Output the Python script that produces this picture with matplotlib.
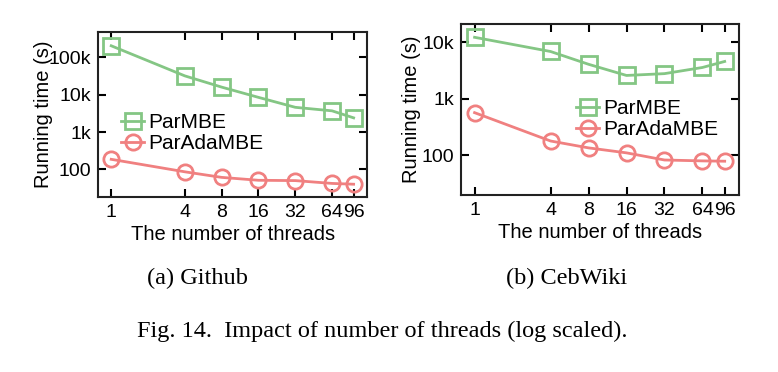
import matplotlib
matplotlib.use("Agg")
import matplotlib.pyplot as plt
from matplotlib.ticker import FixedLocator, FixedFormatter, NullLocator

threads = [1, 4, 8, 16, 32, 64, 96]
thread_labels = ["1", "4", "8", "16", "32", "64", "96"]

github_parmbe = [205000, 32000, 16000, 8500, 4600, 3700, 2400]
github_paradambe = [186, 86, 61, 51, 50, 42, 40]

cebwiki_parmbe = [12300, 6900, 4100, 2600, 2800, 3600, 4600]
cebwiki_paradambe = [571, 180, 136, 111, 83, 80, 79]

github_yticks = [100, 1000, 10000, 100000]
github_ylabels = ["100", "1k", "10k", "100k"]
cebwiki_yticks = [100, 1000, 10000]
cebwiki_ylabels = ["100", "1k", "10k"]

series_names = ["ParMBE", "ParAdaMBE"]
subcaptions = ["(a) Github", "(b) CebWiki"]
caption = "Fig. 14.  Impact of number of threads (log scaled)."

green = "#84c684"
red = "#f08080"
sans = ["Liberation Sans", "DejaVu Sans"]
serif = ["Liberation Serif", "DejaVu Serif"]

fig = plt.figure(figsize=(7.78, 3.72), dpi=100)
fig.patch.set_facecolor("white")

ax1 = fig.add_axes([0.126, 0.470, 0.346, 0.444])
ax2 = fig.add_axes([0.5925, 0.476, 0.357, 0.459])

def style(ax, s1, s2, yticks, ylabels, ylim, anchor, ylabelpad):
    ax.plot(threads, s1, color=green, marker="s", markersize=11, markerfacecolor="none",
            markeredgewidth=2, linewidth=2, label=series_names[0])
    ax.plot(threads, s2, color=red, marker="o", markersize=11, markerfacecolor="none",
            markeredgewidth=2, linewidth=2, label=series_names[1])
    ax.set_xscale("log")
    ax.set_yscale("log")
    ax.set_xlim(0.78, 124)
    ax.set_ylim(*ylim)
    ax.xaxis.set_major_locator(FixedLocator(threads))
    ax.xaxis.set_major_formatter(FixedFormatter(thread_labels))
    ax.xaxis.set_minor_locator(NullLocator())
    ax.yaxis.set_major_locator(FixedLocator(yticks))
    ax.yaxis.set_major_formatter(FixedFormatter(ylabels))
    ax.yaxis.set_minor_locator(NullLocator())
    ax.tick_params(axis="both", which="major", direction="in", length=6, width=1.5,
                   top=True, right=True, labelsize=14, pad=5)
    for lab in ax.get_xticklabels() + ax.get_yticklabels():
        lab.set_family(sans)
    for sp in ax.spines.values():
        sp.set_linewidth(1.5)
        sp.set_color("#222222")
    ax.set_xlabel("The number of threads", fontsize=14.5, family=sans, labelpad=3)
    ax.set_ylabel("Running time (s)", fontsize=14.5, family=sans, labelpad=ylabelpad)
    ax.legend(loc="upper left", bbox_to_anchor=anchor, frameon=False,
              prop={"family": sans, "size": 15}, handlelength=1.1,
              handletextpad=0.2, labelspacing=0.1, borderaxespad=0)

style(ax1, github_parmbe, github_paradambe, github_yticks, github_ylabels,
      (18, 480000), (0.055, 0.56), -3)
style(ax2, cebwiki_parmbe, cebwiki_paradambe, cebwiki_yticks, cebwiki_ylabels,
      (20, 21000), (0.385, 0.61), 0)

fig.text(197 / 778, 1 - 278 / 372, subcaptions[0], ha="center", va="center",
         fontsize=17.5, family=serif)
fig.text(567 / 778, 1 - 278 / 372, subcaptions[1], ha="center", va="center",
         fontsize=17.5, family=serif)
fig.text(382 / 778, 1 - 331 / 372, caption, ha="center", va="center",
         fontsize=17.5, family=serif)

fig.savefig("out.png", dpi=100, facecolor="white")
